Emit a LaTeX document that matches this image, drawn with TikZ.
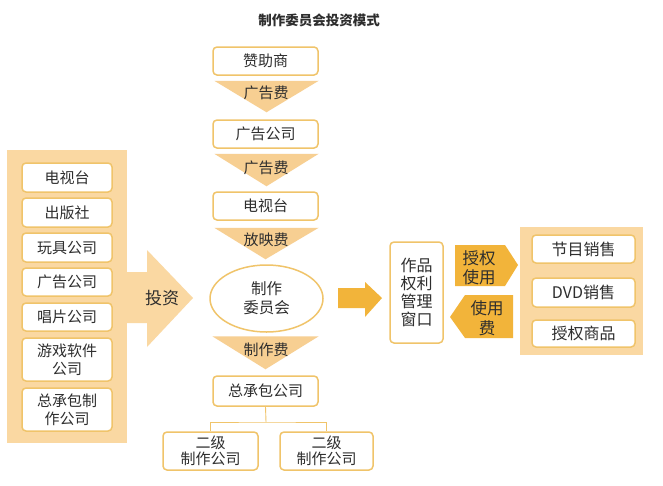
\documentclass[tikz,border=0pt]{standalone}
\usepackage{fontspec}
\setmainfont{Noto Sans CJK SC}
\usetikzlibrary{shapes.geometric,calc}
\definecolor{panelc}{HTML}{FAD8A2}
\definecolor{tric}{HTML}{F7CF92}
\definecolor{strongc}{HTML}{F2B43A}
\definecolor{bordc}{HTML}{F0C46A}
\definecolor{txtc}{HTML}{2E2E2E}
\tikzset{
  wbox/.style={draw=bordc, line width=1.5pt, rounded corners=4pt, fill=white,
    inner sep=0pt, align=center, text=txtc, font=\fontsize{15}{18}\selectfont},
  lbl/.style={inner sep=0pt, align=center, text=txtc, font=\fontsize{15}{18}\selectfont},
  tri/.style={fill=tric, draw=none},
  conn/.style={draw=bordc, line width=0.9pt},
}
\begin{document}
\begin{tikzpicture}[x=1pt,y=-1pt]
\useasboundingbox (0,0) rectangle (663,485);
\fill[white] (0,0) rectangle (663,485);

% title
\node[lbl, font=\fontsize{13.5}{15}\selectfont\bfseries] (title) at (319,20) {制作委员会投资模式};

% left panel
\fill[panelc] (7,150) rectangle (127,443);
\fill[panelc] (126,272) -- (147,272) -- (147,250) -- (193,298) -- (147,347) -- (147,323) -- (126,323) -- cycle;
\node[lbl, font=\fontsize{17}{20}\selectfont] (invest) at (162,298) {投资};
\node[wbox, minimum width=90pt, minimum height=29pt] (l1) at (67,177.5) {电视台};
\node[wbox, minimum width=90pt, minimum height=29pt] (l2) at (67,212.5) {出版社};
\node[wbox, minimum width=90pt, minimum height=29pt] (l3) at (67,247.5) {玩具公司};
\node[wbox, minimum width=90pt, minimum height=28pt] (l4) at (67,282) {广告公司};
\node[wbox, minimum width=90pt, minimum height=28pt] (l5) at (67,317) {唱片公司};
\node[wbox, minimum width=90pt, minimum height=43pt] (l6) at (67,359.5) {游戏软件\\公司};
\node[wbox, minimum width=90pt, minimum height=43pt] (l7) at (67,409.5) {总承包制\\作公司};

% top column
\node[wbox, minimum width=105pt, minimum height=28pt] (sp) at (265.5,61) {赞助商};
\node[wbox, minimum width=105pt, minimum height=28pt] (ad) at (265.5,134) {广告公司};
\node[wbox, minimum width=105pt, minimum height=28pt] (tv) at (265.5,206) {电视台};
\node[draw=bordc, line width=1.5pt, fill=white, ellipse, minimum width=113pt, minimum height=67pt,
  inner sep=0pt, align=center, text=txtc, font=\fontsize{15.5}{19}\selectfont] (cm) at (266.5,298.5) {制作\\委员会};
\node[wbox, minimum width=105pt, minimum height=30pt] (gc) at (265.5,391) {总承包公司};
\node[wbox, minimum width=95pt, minimum height=38pt, font=\fontsize{15}{16}\selectfont] (s1) at (210.5,451) {二级\\制作公司};
\node[wbox, minimum width=93pt, minimum height=38pt, font=\fontsize{15}{16}\selectfont] (s2) at (326.5,451) {二级\\制作公司};

% triangles
\fill[tri] ($(sp.south west)+(2,5)$) -- ($(sp.south east)+(0,5)$) -- ($(ad.north)+(1,-7)$) -- cycle;
\node[lbl] (f1) at (266,93) {广告费};
\fill[tri] ($(ad.south west)+(2,5)$) -- ($(ad.south east)+(0,5)$) -- ($(tv.north)+(1,-5)$) -- cycle;
\node[lbl] (f2) at (266,168) {广告费};
\fill[tri] ($(tv.south west)+(2,7)$) -- ($(tv.south east)+(0,7)$) -- ($(cm.north)+(-1,-5)$) -- cycle;
\node[lbl] (f3) at (266,240) {放映费};
\fill[tri] ($(gc.north west)+(0,-39)$) -- ($(gc.north east)+(0,-39)$) -- ($(gc.north)+(0,-6)$) -- cycle;
\node[lbl] (f4) at (266,350) {制作费};

% tree connector
\coordinate (jn) at (266,422);
\draw[conn] (gc.south) -- (jn);
\draw[conn] (s1.north) |- (jn) -| (s2.north);

% middle arrow
\fill[strongc] (338,288) -- (365,288) -- (365,282) -- (382,298) -- (365,317) -- (365,308) -- (338,308) -- cycle;

% window box
\node[wbox, minimum width=53pt, minimum height=101pt, font=\fontsize{16}{17.7}\selectfont] (win) at (416.5,292.5) {作品\\权利\\管理\\窗口};

% licence arrows
\fill[strongc] (455,245) -- (505,245) -- (518,265) -- (505,286) -- (455,286) -- cycle;
\node[lbl, font=\fontsize{16.5}{18.5}\selectfont] (lic) at (479,268) {授权\\使用};
\fill[strongc] (465,295) -- (513,295) -- (513,338) -- (465,338) -- (450,317) -- cycle;
\node[lbl, font=\fontsize{16.5}{20}\selectfont] (fee) at (487,318) {使用\\费};

% right panel
\fill[panelc] (520,227) rectangle (643,355);
\node[wbox, minimum width=103pt, minimum height=28pt, font=\fontsize{16}{18}\selectfont] (r1) at (583.5,249) {节目销售};
\node[wbox, minimum width=103pt, minimum height=29pt, font=\fontsize{16}{18}\selectfont] (r2) at (583.5,292.5) {DVD销售};
\node[wbox, minimum width=103pt, minimum height=27pt, font=\fontsize{16}{18}\selectfont] (r3) at (583.5,333.5) {授权商品};
\end{tikzpicture}
\end{document}
